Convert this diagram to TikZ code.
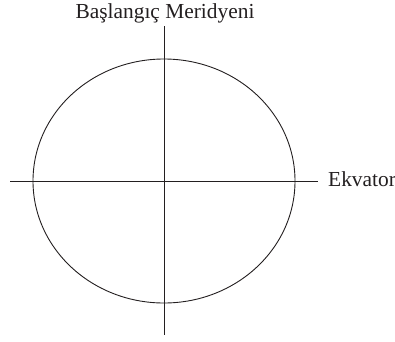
\documentclass[tikz,border=0pt]{standalone}
\usepackage{fontspec}
\setmainfont{Liberation Serif}
\definecolor{ink}{HTML}{231F20}
\tikzset{
  lbl/.style={inner sep=0pt, text=ink, font=\fontsize{21.4}{24}\selectfont},
  axis/.style={draw=ink, line width=0.9pt},
}
\begin{document}
\begin{tikzpicture}[x=1pt,y=-1pt]
\useasboundingbox (0,0) rectangle (395,341);
\coordinate (c) at (164,181);
\coordinate (n) at (164,26);
\coordinate (s) at (164,335);
\coordinate (w) at (10,181);
\coordinate (e) at (318,181);
\draw[axis] (c) ellipse [x radius=131, y radius=122];
\draw[axis] (n) -- (s);
\draw[axis] (w) -- (e);
\node[lbl, anchor=base] (meridyen) at (165,18.7) {Başlangıç Meridyeni};
\node[lbl, anchor=base west] (ekvator) at (328,186.7) {Ekvator};
\end{tikzpicture}
\end{document}
